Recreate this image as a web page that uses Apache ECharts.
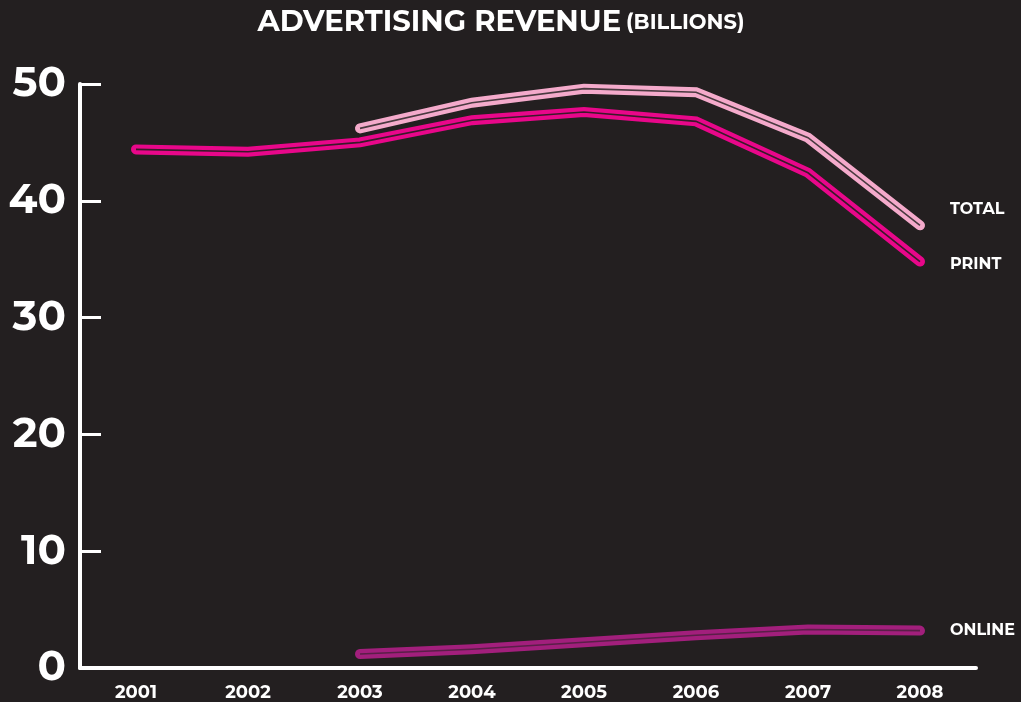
<!DOCTYPE html>
<html>
<head>
<meta charset="utf-8">
<script src="https://cdn.jsdelivr.net/npm/echarts@6/dist/echarts.min.js"></script>
<style>
html,body{margin:0;padding:0;background:#231f20;}
#chart{width:1021px;height:702px;}
</style>
</head>
<body>
<div id="chart"></div>
<script>
const years = ['2001','2002','2003','2004','2005','2006','2007','2008'];
const totalValues = [null, null, 46.2, 48.4, 49.6, 49.3, 45.4, 37.9];
const printValues = [44.4, 44.2, 45.0, 46.9, 47.6, 46.8, 42.4, 34.8];
const onlineValues = [null, null, 1.2, 1.6, 2.2, 2.8, 3.3, 3.2];
const yTicks = [0, 10, 20, 30, 40, 50];

const BG = '#231f20';
const FONT = 'Montserrat, Lato, "Open Sans", sans-serif';

function outer(name, data, color, label, offset) {
  return {
    name: name, type: 'line', data: data, symbol: 'none', z: 2,
    lineStyle: {color: color, width: 10, cap: 'round', join: 'miter'},
    endLabel: {show: true, formatter: label, color: '#fff', fontFamily: FONT,
      fontWeight: 'bold', fontSize: 16, offset: offset},
    emphasis: {disabled: true}, animation: false
  };
}
function inner(name, data, color) {
  return {
    name: name + '_inner', type: 'line', data: data, symbol: 'none', z: 3,
    lineStyle: {color: color, width: 1.6, join: 'miter'},
    emphasis: {disabled: true}, animation: false
  };
}

const chart = echarts.init(document.getElementById('chart'));
chart.setOption({
  backgroundColor: BG,
  animation: false,
  title: {
    text: '{a|ADVERTISING REVENUE} {b|(BILLIONS)}',
    left: 496, top: 3, textAlign: 'center',
    textStyle: {
      rich: {
        a: {color: '#fff', fontFamily: FONT, fontWeight: 'bold', fontSize: 29},
        b: {color: '#fff', fontFamily: FONT, fontWeight: 'bold', fontSize: 21}
      }
    }
  },
  grid: {left: 80, right: 45, top: 84, bottom: 33, containLabel: false},
  xAxis: {
    type: 'category', data: years, boundaryGap: true,
    axisLine: {lineStyle: {color: '#fff', width: 4}},
    axisTick: {inside: true, alignWithLabel: true, length: 14, lineStyle: {color: '#fff', width: 3}},
    axisLabel: {color: '#fff', fontFamily: FONT, fontWeight: 'bold', fontSize: 18, margin: 16}
  },
  yAxis: {
    type: 'value', min: 0, max: 50, interval: 10,
    axisLine: {show: true, lineStyle: {color: '#fff', width: 4}},
    axisTick: {show: true, inside: true, length: 21, lineStyle: {color: '#fff', width: 3}},
    splitLine: {show: false},
    axisLabel: {color: '#fff', fontFamily: FONT, fontWeight: 'bold', fontSize: 42, margin: 14,
      formatter: v => yTicks.includes(v) ? String(v) : ''}
  },
  series: [
    outer('Total', totalValues, '#f4aacb', 'TOTAL', [22, -16]),
    inner('Total', totalValues, '#4a3a40'),
    outer('Print', printValues, '#e8078a', 'PRINT', [22, 3]),
    inner('Print', printValues, '#3a1a2a'),
    outer('Online', onlineValues, '#a21f7c', 'ONLINE', [22, 0]),
    inner('Online', onlineValues, '#5a1f48')
  ]
});
</script>
</body>
</html>
